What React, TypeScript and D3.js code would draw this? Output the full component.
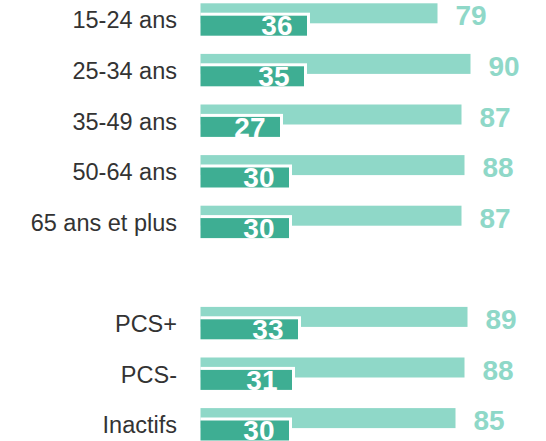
import React from 'react';
import * as d3 from 'd3';

const categories = ['15-24 ans', '25-34 ans', '35-49 ans', '50-64 ans', '65 ans et plus', '', 'PCS+', 'PCS-', 'Inactifs'];
const lightValues = [79, 90, 87, 88, 87, null, 89, 88, 85];
const darkValues = [36, 35, 27, 30, 30, null, 33, 31, 30];

const W = 546;
const H = 441;
const LIGHT = '#8fd8c8';
const DARK = '#3eae93';

const App = () => {
  const x = d3.scaleLinear().domain([0, 100]).range([200.5, 500.5]);
  const y = d3.scaleBand<number>()
    .domain(categories.map((_, i) => i))
    .range([3.3, 3.3 + 50.6 * categories.length])
    .padding(0);

  return (
    <svg width={W} height={H} style={{ position: 'absolute', left: 0, top: 0, background: '#fff' }}
      fontFamily="Liberation Sans, Arial, sans-serif">
      {categories.map((cat, i) => {
        const lv = lightValues[i];
        const dv = darkValues[i];
        if (lv == null || dv == null) return null;
        const y0 = y(i) as number;
        const x0 = x(0);
        const xl = x(lv);
        const xd = x(dv);
        return (
          <g key={i}>
            <text x={177} y={y0 + 25} textAnchor="end" fontSize={23.5} fill="#333">{cat}</text>
            <rect x={x0} y={y0} width={xl - x0} height={20} fill={LIGHT} />
            <text x={xl + 18} y={y0 + 22} fontSize={28} fontWeight="bold" fill={LIGHT}>{lv}</text>
            <rect x={x0} y={y0 + 9.4} width={xd + 1.5 - x0} height={23} fill="#fff" />
            <rect x={x0} y={y0 + 12.4} width={xd - 1.5 - x0} height={20} fill={DARK} />
            <text x={xd - 16} y={y0 + 32} textAnchor="end" fontSize={28} fontWeight="bold" fill="#fff">{dv}</text>
          </g>
        );
      })}
    </svg>
  );
};

export default App;
